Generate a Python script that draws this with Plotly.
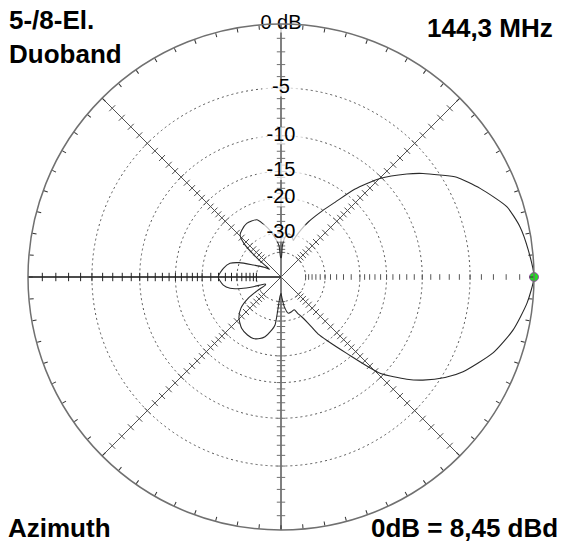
import numpy as np
import plotly.graph_objects as go

# ---------------- data ----------------
azimuth_deg = [0, 6.2, 11.9, 17.3, 24.0, 29.6, 32.7, 36.1, 39.3, 44.9, 50, 54, 58, 63.5, 67, 70,
               71.5, 75, 80, 84, 87.5, 89, 91, 93.5, 97, 105, 113, 122.6, 130, 134.3, 138, 140.5,
               143, 146, 150, 156.6, 161, 165, 171.4, 180, 188, 192.5, 196, 199.3, 204, 207, 210,
               213, 218, 224.5, 232.5, 240, 245.7, 251, 255, 260, 262.9, 264.5, 267, 270, 272.5,
               276, 281.4, 287, 292, 294.5, 297.5, 300.5, 303, 306, 310.7, 315.8, 320.9, 324,
               328.5, 332.5, 340.3, 347.1, 354, 360]
gain_db = [0, -0.29, -0.61, -1.16, -2.56, -3.86, -5.02, -6.25, -7.58, -10.2, -13.6, -17.2, -20.2,
           -24.2, -27.3, -30.5, -32.3, -30.6, -30.2, -31.5, -36, -44, -44, -36, -33, -27.6, -24.1,
           -23.7, -24.4, -25.1, -28, -33, -40, -50, -44, -36.5, -30, -26.9, -25.2, -23.9, -25.2,
           -27.1, -31, -37, -46, -46, -38, -32.1, -27.5, -25.0, -23.4, -22.8, -22.7, -23.3, -24.2,
           -26.5, -28.4, -35, -44, -47, -43, -37, -33, -33.3, -33.8, -31.8, -29.7, -26.6, -22.6,
           -20.0, -15.8, -10.4, -7.64, -6.29, -4.7, -3.59, -2.0, -1.05, -0.38, 0]

ring_db = [-5, -10, -15, -20, -30, -40]
label_db = [0, -5, -10, -15, -20, -30]
label_text = ["0 dB", "-5", "-10", "-15", "-20", "-30"]
label_width = [46, 27, 35, 35, 35, 35]
spoke_deg = [45, 135, 225, 315]
tick_db = list(range(-1, -21, -1)) + list(range(-22, -41, -2))
outer_tick_deg = list(range(0, 360, 5))

title_left = "<b>5-/8-El.<br>Duoband</b>"
title_right = "<b>144,3 MHz</b>"
foot_left = "<b>Azimuth</b>"
foot_right = "<b>0dB = 8,45 dBd</b>"

FONT = "Liberation Sans, Arial, sans-serif"


def arrl(db):
    """ARRL log scale: factor 0.89 per 2 dB."""
    return 0.89 ** (-np.asarray(db, dtype=float) / 2.0)


fig = go.Figure()

# diagonal spokes
for a in spoke_deg:
    fig.add_trace(go.Scatterpolar(r=[0, 1], theta=[a, a], mode="lines",
                                  line=dict(color="#505050", width=1),
                                  hoverinfo="skip", showlegend=False))
# vertical axis
fig.add_trace(go.Scatterpolar(r=[1, 0, 1], theta=[90, 90, 270], mode="lines",
                              line=dict(color="#808080", width=2),
                              hoverinfo="skip", showlegend=False))
# horizontal (left half)
fig.add_trace(go.Scatterpolar(r=[0, 1], theta=[180, 180], mode="lines",
                              line=dict(color="#111111", width=1.5),
                              hoverinfo="skip", showlegend=False))

# tick marks along all axes
tick_r = arrl(tick_db)
tick_style = {0: ("#555555", 4), 45: ("#505050", 6), 90: ("#707070", 6), 135: ("#505050", 6),
              180: ("#222222", 6), 225: ("#505050", 6), 270: ("#707070", 6), 315: ("#505050", 6)}
for a, (c, s) in tick_style.items():
    fig.add_trace(go.Scatterpolar(
        r=tick_r, theta=[a] * len(tick_r), mode="markers",
        marker=dict(symbol="line-ns", size=s, angle=-a,
                    line=dict(color=c, width=1)),
        hoverinfo="skip", showlegend=False))

# radiation pattern
fig.add_trace(go.Scatterpolar(r=arrl(gain_db), theta=azimuth_deg, mode="lines",
                              line=dict(color="#2a2a2a", width=1.1, shape="spline", smoothing=0.6),
                              hoverinfo="skip", showlegend=False))

# max marker
imax = int(np.argmax(gain_db))
fig.add_trace(go.Scatterpolar(r=[arrl(gain_db[imax])], theta=[azimuth_deg[imax]], mode="markers",
                              marker=dict(color="#22dd22", size=9,
                                          line=dict(color="#a050b0", width=1)),
                              hoverinfo="skip", showlegend=False))

# label backgrounds + labels
lab_r = arrl(label_db)
fig.add_trace(go.Scatterpolar(r=lab_r, theta=[90] * len(lab_r), mode="markers",
                              marker=dict(symbol="line-ew", size=label_width,
                                          line=dict(color="white", width=17)),
                              hoverinfo="skip", showlegend=False))
fig.add_trace(go.Scatterpolar(r=lab_r, theta=[90] * len(lab_r), mode="text",
                              text=label_text, textposition="middle center",
                              textfont=dict(family=FONT, size=20, color="#000000"),
                              hoverinfo="skip", showlegend=False))

W, H = 562, 548
cx, cy, R = 281, 277, 253
fig.update_layout(
    width=W, height=H,
    margin=dict(l=0, r=0, t=0, b=0),
    paper_bgcolor="white",
    showlegend=False,
    polar=dict(
        domain=dict(x=[(cx - R) / W, (cx + R) / W],
                    y=[(H - cy - R) / H, (H - cy + R) / H]),
        bgcolor="white",
        radialaxis=dict(range=[0, 1], tickvals=list(arrl(ring_db)), showticklabels=False,
                        ticks="", showline=False, showgrid=True, gridcolor="#555555",
                        griddash="2px,3px", gridwidth=1),
        angularaxis=dict(rotation=0, direction="counterclockwise", showgrid=False,
                         showline=True, linecolor="#707070", linewidth=1.5,
                         tickvals=outer_tick_deg, ticks="inside", ticklen=4,
                         tickcolor="#333333", showticklabels=False),
    ),
    annotations=[
        dict(text=title_left, x=7 / W, y=1 - 3 / H, xref="paper", yref="paper",
             xanchor="left", yanchor="top", align="left", showarrow=False,
             font=dict(family=FONT, size=26, color="black")),
        dict(text=title_right, x=1 - 7 / W, y=1 - 11 / H, xref="paper", yref="paper",
             xanchor="right", yanchor="top", align="right", showarrow=False,
             font=dict(family=FONT, size=26, color="black")),
        dict(text=foot_left, x=6 / W, y=3 / H, xref="paper", yref="paper",
             xanchor="left", yanchor="bottom", align="left", showarrow=False,
             font=dict(family=FONT, size=26, color="black")),
        dict(text=foot_right, x=1 - 2 / W, y=3 / H, xref="paper", yref="paper",
             xanchor="right", yanchor="bottom", align="right", showarrow=False,
             font=dict(family=FONT, size=26, color="black")),
    ],
)

fig.write_html("out.html", config={"displayModeBar": False},
               post_script="document.body.style.margin='0px';document.body.style.overflow='hidden';")
